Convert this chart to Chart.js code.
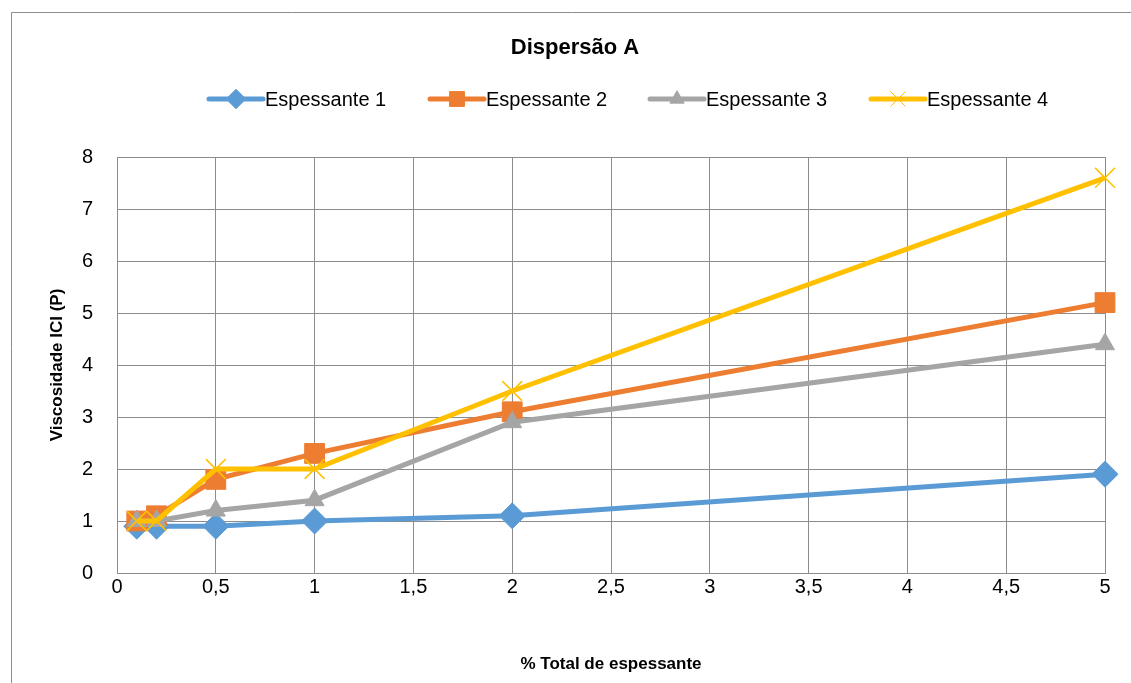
<!DOCTYPE html>
<html>
<head>
<meta charset="utf-8">
<script src="https://cdn.jsdelivr.net/npm/chart.js@4/dist/chart.umd.min.js"></script>
<style>
  html, body { margin: 0; background: #fff; }
</style>
</head>
<body>
<canvas id="chart" width="1131" height="683"></canvas>
<script>
// Data
const xValues = [0.1, 0.2, 0.5, 1, 2, 5];
const espessante1 = [0.9, 0.9, 0.9, 1.0, 1.1, 1.9];
const espessante2 = [1.0, 1.1, 1.8, 2.3, 3.1, 5.2];
const espessante3 = [1.0, 1.0, 1.2, 1.4, 2.9, 4.4];
const espessante4 = [1.0, 1.0, 2.0, 2.0, 3.5, 7.6];
const seriesNames = ['Espessante 1', 'Espessante 2', 'Espessante 3', 'Espessante 4'];
const chartTitle = 'Dispersão A';
const xTitle = '% Total de espessante';
const yTitle = 'Viscosidade ICI (P)';

const colors = ['#5b9bd5', '#ed7d31', '#a5a5a5', '#ffc000'];
const markers = [
  { style: 'rectRot', radius: 13 },
  { style: 'rect', radius: 14 },
  { style: 'triangle', radius: 11 },
  { style: 'crossRot', radius: 14 }
];
const allValues = [espessante1, espessante2, espessante3, espessante4];

const toPoints = vals => xValues.map((x, i) => ({ x, y: vals[i] }));
const comma = v => String(v).replace('.', ',');
const FONT = '"Liberation Sans", Arial, sans-serif';

const datasets = allValues.map((vals, i) => ({
  label: seriesNames[i],
  data: toPoints(vals),
  borderColor: colors[i],
  backgroundColor: colors[i],
  borderWidth: 5,
  pointStyle: markers[i].style,
  pointRadius: markers[i].radius,
  pointHoverRadius: markers[i].radius,
  pointBorderWidth: i === 3 ? 1.5 : 1,
  pointBorderColor: colors[i],
  pointBackgroundColor: colors[i],
  tension: 0,
  clip: false,
  order: 4 - i // later series drawn on top, like the original
}));

// Outer frame, title and legend (line + marker) drawn on the canvas
const decorations = {
  id: 'decorations',
  beforeDraw(chart) {
    const ctx = chart.ctx;
    ctx.save();
    ctx.strokeStyle = '#8c8c8c';
    ctx.lineWidth = 1;
    ctx.beginPath();
    ctx.moveTo(11.5, 683);
    ctx.lineTo(11.5, 12.5);
    ctx.lineTo(1131, 12.5);
    ctx.stroke();
    ctx.restore();
  },
  afterDraw(chart) {
    const ctx = chart.ctx;
    ctx.save();
    ctx.fillStyle = '#000';
    ctx.font = 'bold 22px ' + FONT;
    ctx.textAlign = 'center';
    ctx.textBaseline = 'middle';
    ctx.fillText(chartTitle, 575, 48);

    const starts = [207, 428, 648, 869];
    ctx.font = '20px ' + FONT;
    ctx.textAlign = 'left';
    starts.forEach((x0, i) => {
      const y = 99;
      ctx.strokeStyle = colors[i];
      ctx.lineWidth = 5;
      ctx.lineCap = 'round';
      ctx.beginPath();
      ctx.moveTo(x0 + 2, y);
      ctx.lineTo(x0 + 56, y);
      ctx.stroke();
      ctx.lineCap = 'butt';
      ctx.fillStyle = colors[i];
      ctx.strokeStyle = colors[i];
      ctx.lineWidth = 1;
      Chart.helpers.drawPoint(ctx, {
        pointStyle: markers[i].style,
        radius: markers[i].radius * 0.75,
        rotation: 0,
        borderWidth: 1
      }, x0 + 29, y);
      ctx.fillStyle = '#000';
      ctx.fillText(seriesNames[i], x0 + 58, y + 1);
    });
    ctx.restore();
  }
};

new Chart(document.getElementById('chart'), {
  type: 'line',
  data: { datasets },
  options: {
    responsive: false,
    animation: false,
    devicePixelRatio: 1,
    layout: { padding: { top: 157, left: 11, right: 26, bottom: 0 } },
    plugins: {
      legend: { display: false },
      title: { display: false },
      tooltip: { enabled: false }
    },
    scales: {
      x: {
        type: 'linear',
        min: 0,
        max: 5,
        afterFit: s => { s.height = 110; },
        ticks: {
          stepSize: 0.5,
          color: '#000',
          padding: 2,
          font: { size: 20, family: FONT },
          callback: v => comma(v),
          maxRotation: 0
        },
        grid: { color: '#8c8c8c', drawTicks: false },
        border: { color: '#8c8c8c' },
        title: {
          display: true,
          text: xTitle,
          color: '#000',
          font: { size: 17, weight: 'bold', family: FONT },
          padding: { top: 0, bottom: 8 }
        }
      },
      y: {
        min: 0,
        max: 8,
        afterFit: s => { s.width = 106; },
        ticks: {
          stepSize: 1,
          color: '#000',
          padding: 24,
          font: { size: 20, family: FONT }
        },
        grid: { color: '#8c8c8c', drawTicks: false },
        border: { color: '#8c8c8c' },
        title: {
          display: true,
          text: yTitle,
          color: '#000',
          font: { size: 17, weight: 'bold', family: FONT },
          padding: { top: 36, bottom: 0 }
        }
      }
    }
  },
  plugins: [decorations]
});
</script>
</body>
</html>
